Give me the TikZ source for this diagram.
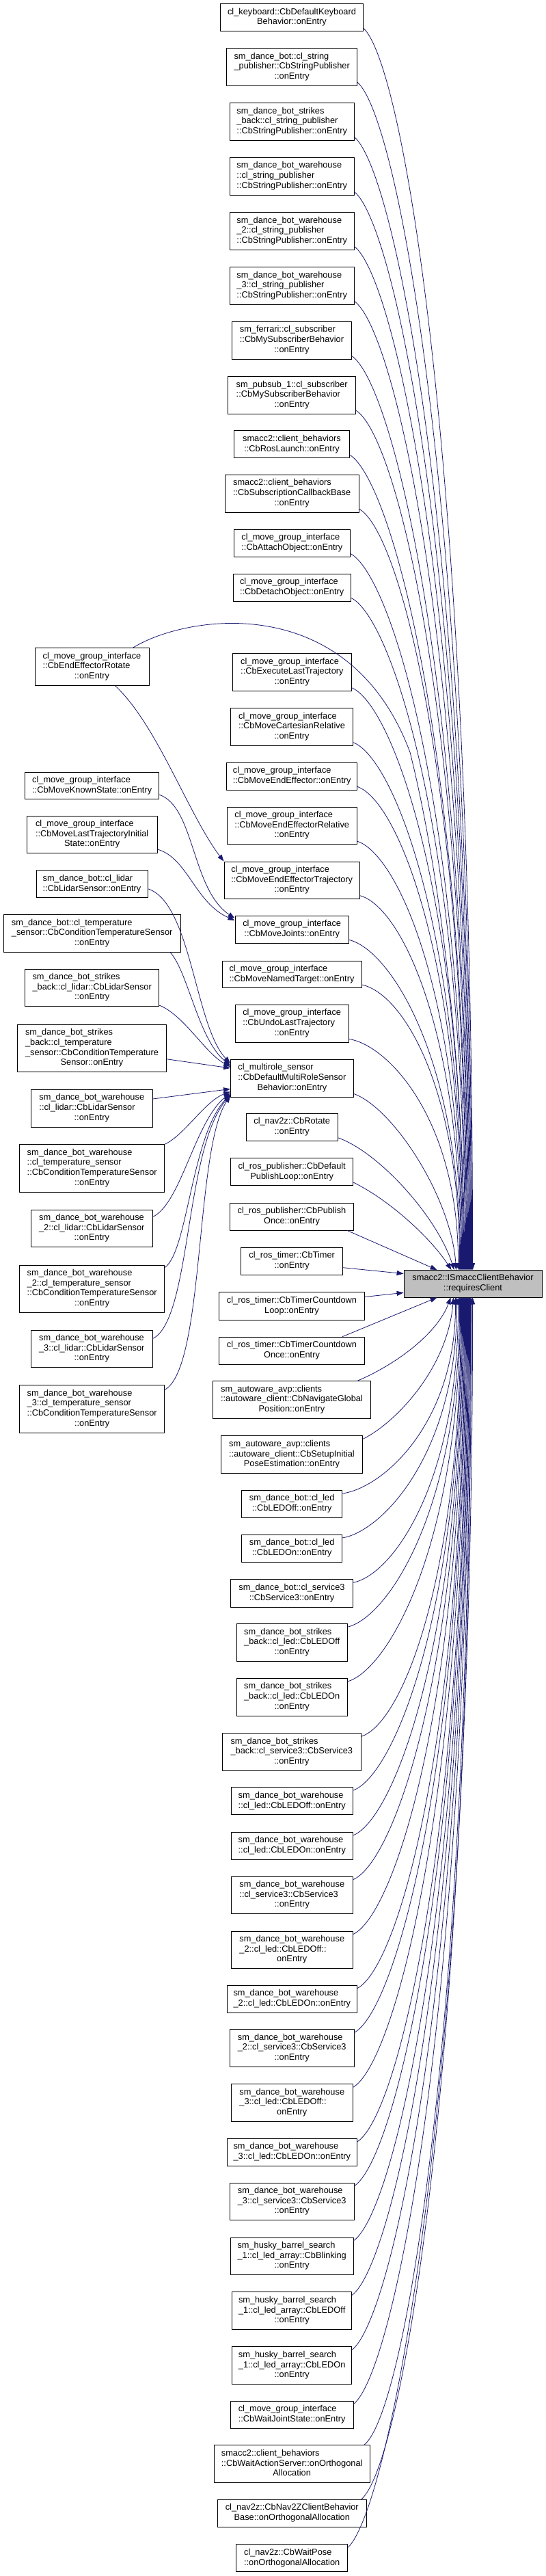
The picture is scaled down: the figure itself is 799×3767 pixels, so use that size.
\documentclass[tikz,border=0pt]{standalone}
\usepackage{fontspec}
\setmainfont{Liberation Sans}
\usetikzlibrary{arrows.meta,calc}
\definecolor{edgeblue}{HTML}{191970}
\definecolor{tgray}{HTML}{BFBFBF}
\newcommand{\boxtext}[2]{\begin{tabular}{@{}l@{}}#1\\\multicolumn{1}{@{}c@{}}{#2}\end{tabular}}
\begin{document}
\begin{tikzpicture}[x=1pt,y=-1pt,
  box/.style={draw=black, line width=0.8pt, fill=white, inner sep=0pt, font=\fontsize{12.8}{14.7}\selectfont},
  target/.style={box, fill=tgray},
  edge/.style={draw=edgeblue, line width=0.8pt, -{Triangle[length=10pt,width=7pt]}}]
\fill[white] (0,0) rectangle (799,3767);
\useasboundingbox (0,0) rectangle (799,3767);
% target
\node[target,minimum width=202pt,minimum height=39.5pt] (T) at (692,1877.2) {\boxtext{smacc2::ISmaccClientBehavior}{::requiresClient}};
% middle column
\node[box,minimum width=208.6pt,minimum height=40pt] (n1) at (427,25.7) {\boxtext{cl\_keyboard::CbDefaultKeyboard}{Behavior::onEntry}};
\node[box,minimum width=191pt,minimum height=54.3pt] (n2) at (427.2,97.8) {\boxtext{sm\_dance\_bot::cl\_string\\\_publisher::CbStringPublisher}{::onEntry}};
\node[box,minimum width=181.7pt,minimum height=54.3pt] (n3) at (427.2,177.8) {\boxtext{sm\_dance\_bot\_strikes\\\_back::cl\_string\_publisher}{::CbStringPublisher::onEntry}};
\node[box,minimum width=181.7pt,minimum height=54.7pt] (n4) at (427.2,257.7) {\boxtext{sm\_dance\_bot\_warehouse\\::cl\_string\_publisher}{::CbStringPublisher::onEntry}};
\node[box,minimum width=181.7pt,minimum height=54.3pt] (n5) at (427.2,337.8) {\boxtext{sm\_dance\_bot\_warehouse\\\_2::cl\_string\_publisher}{::CbStringPublisher::onEntry}};
\node[box,minimum width=181.7pt,minimum height=54.3pt] (n6) at (427.2,417.8) {\boxtext{sm\_dance\_bot\_warehouse\\\_3::cl\_string\_publisher}{::CbStringPublisher::onEntry}};
\node[box,minimum width=174.6pt,minimum height=54.7pt] (n7) at (427,497.7) {\boxtext{sm\_ferrari::cl\_subscriber\\::CbMySubscriberBehavior}{::onEntry}};
\node[box,minimum width=187pt,minimum height=54.3pt] (n8) at (427.2,577.8) {\boxtext{sm\_pubsub\_1::cl\_subscriber\\::CbMySubscriberBehavior}{::onEntry}};
\node[box,minimum width=168.6pt,minimum height=40pt] (n9) at (427,649.7) {\boxtext{smacc2::client\_behaviors}{::CbRosLaunch::onEntry}};
\node[box,minimum width=196.3pt,minimum height=54.7pt] (n10) at (427.2,721.7) {\boxtext{smacc2::client\_behaviors\\::CbSubscriptionCallbackBase}{::onEntry}};
\node[box,minimum width=169.6pt,minimum height=40pt] (n11) at (427.4,794) {\boxtext{cl\_move\_group\_interface}{::CbAttachObject::onEntry}};
\node[box,minimum width=172.6pt,minimum height=40pt] (n12) at (427.2,859) {\boxtext{cl\_move\_group\_interface}{::CbDetachObject::onEntry}};
\node[box,minimum width=173.8pt,minimum height=54.6pt] (n13) at (427.4,983) {\boxtext{cl\_move\_group\_interface\\::CbExecuteLastTrajectory}{::onEntry}};
\node[box,minimum width=179pt,minimum height=54.6pt] (n14) at (427,1063) {\boxtext{cl\_move\_group\_interface\\::CbMoveCartesianRelative}{::onEntry}};
\node[box,minimum width=191pt,minimum height=40pt] (n15) at (427.2,1135) {\boxtext{cl\_move\_group\_interface}{::CbMoveEndEffector::onEntry}};
\node[box,minimum width=189.4pt,minimum height=54.7pt] (n16) at (427.2,1207.3) {\boxtext{cl\_move\_group\_interface\\::CbMoveEndEffectorRelative}{::onEntry}};
\node[box,minimum width=198.6pt,minimum height=54.3pt] (n17) at (427.2,1287.2) {\boxtext{cl\_move\_group\_interface\\::CbMoveEndEffectorTrajectory}{::onEntry}};
\node[box,minimum width=166.6pt,minimum height=39.7pt] (n18) at (427.2,1359.2) {\boxtext{cl\_move\_group\_interface}{::CbMoveJoints::onEntry}};
\node[box,minimum width=204pt,minimum height=39.7pt] (n19) at (427,1424.8) {\boxtext{cl\_move\_group\_interface}{::CbMoveNamedTarget::onEntry}};
\node[box,minimum width=166.6pt,minimum height=54.7pt] (n20) at (427.2,1496.7) {\boxtext{cl\_move\_group\_interface\\::CbUndoLastTrajectory}{::onEntry}};
\node[box,minimum width=179.8pt,minimum height=54.7pt] (n21) at (427.4,1576.7) {\boxtext{cl\_multirole\_sensor\\::CbDefaultMultiRoleSensor}{Behavior::onEntry}};
\node[box,minimum width=133.8pt,minimum height=40pt] (n22) at (427.2,1648.3) {\boxtext{cl\_nav2z::CbRotate}{::onEntry}};
\node[box,minimum width=179.3pt,minimum height=40pt] (n23) at (427.2,1713.7) {\boxtext{cl\_ros\_publisher::CbDefault}{PublishLoop::onEntry}};
\node[box,minimum width=181.4pt,minimum height=40pt] (n24) at (427,1779) {\boxtext{cl\_ros\_publisher::CbPublish}{Once::onEntry}};
\node[box,minimum width=149pt,minimum height=40pt] (n25) at (427.2,1844.3) {\boxtext{cl\_ros\_timer::CbTimer}{::onEntry}};
\node[box,minimum width=213.4pt,minimum height=40.3pt] (n26) at (427,1910) {\boxtext{cl\_ros\_timer::CbTimerCountdown}{Loop::onEntry}};
\node[box,minimum width=213.4pt,minimum height=40.3pt] (n27) at (427,1975.2) {\boxtext{cl\_ros\_timer::CbTimerCountdown}{Once::onEntry}};
\node[box,minimum width=231.1pt,minimum height=54.6pt] (n28) at (427,2047) {\boxtext{sm\_autoware\_avp::clients\\::autoware\_client::CbNavigateGlobal}{Position::onEntry}};
\node[box,minimum width=207.5pt,minimum height=55pt] (n29) at (427,2127.2) {\boxtext{sm\_autoware\_avp::clients\\::autoware\_client::CbSetupInitial}{PoseEstimation::onEntry}};
\node[box,minimum width=147.3pt,minimum height=39.7pt] (n30) at (427.2,2199.2) {\boxtext{sm\_dance\_bot::cl\_led}{::CbLEDOff::onEntry}};
\node[box,minimum width=147.3pt,minimum height=40pt] (n31) at (427.2,2264.3) {\boxtext{sm\_dance\_bot::cl\_led}{::CbLEDOn::onEntry}};
\node[box,minimum width=179pt,minimum height=40.3pt] (n32) at (427,2329.8) {\boxtext{sm\_dance\_bot::cl\_service3}{::CbService3::onEntry}};
\node[box,minimum width=161.6pt,minimum height=54.3pt] (n33) at (427.2,2401.8) {\boxtext{sm\_dance\_bot\_strikes\\\_back::cl\_led::CbLEDOff}{::onEntry}};
\node[box,minimum width=161.6pt,minimum height=54.7pt] (n34) at (427.2,2481.7) {\boxtext{sm\_dance\_bot\_strikes\\\_back::cl\_led::CbLEDOn}{::onEntry}};
\node[box,minimum width=202.9pt,minimum height=54.3pt] (n35) at (426.8,2561.8) {\boxtext{sm\_dance\_bot\_strikes\\\_back::cl\_service3::CbService3}{::onEntry}};
\node[box,minimum width=177.6pt,minimum height=40pt] (n36) at (427.2,2633.7) {\boxtext{sm\_dance\_bot\_warehouse}{::cl\_led::CbLEDOff::onEntry}};
\node[box,minimum width=178pt,minimum height=40pt] (n37) at (427.3,2699.3) {\boxtext{sm\_dance\_bot\_warehouse}{::cl\_led::CbLEDOn::onEntry}};
\node[box,minimum width=178pt,minimum height=54.3pt] (n38) at (427.3,2771.2) {\boxtext{sm\_dance\_bot\_warehouse\\::cl\_service3::CbService3}{::onEntry}};
\node[box,minimum width=178pt,minimum height=54.7pt] (n39) at (427.3,2851.3) {\boxtext{sm\_dance\_bot\_warehouse\\\_2::cl\_led::CbLEDOff::}{onEntry}};
\node[box,minimum width=190pt,minimum height=40.3pt] (n40) at (427.3,2923.2) {\boxtext{sm\_dance\_bot\_warehouse}{\_2::cl\_led::CbLEDOn::onEntry}};
\node[box,minimum width=181.7pt,minimum height=54.6pt] (n41) at (427.2,2995) {\boxtext{sm\_dance\_bot\_warehouse\\\_2::cl\_service3::CbService3}{::onEntry}};
\node[box,minimum width=178pt,minimum height=54.6pt] (n42) at (427.3,3075) {\boxtext{sm\_dance\_bot\_warehouse\\\_3::cl\_led::CbLEDOff::}{onEntry}};
\node[box,minimum width=190pt,minimum height=39.7pt] (n43) at (427.3,3147.2) {\boxtext{sm\_dance\_bot\_warehouse}{\_3::cl\_led::CbLEDOn::onEntry}};
\node[box,minimum width=181.7pt,minimum height=54.7pt] (n44) at (427.2,3219.3) {\boxtext{sm\_dance\_bot\_warehouse\\\_3::cl\_service3::CbService3}{::onEntry}};
\node[box,minimum width=179.7pt,minimum height=54.3pt] (n45) at (427.2,3299.2) {\boxtext{sm\_husky\_barrel\_search\\\_1::cl\_led\_array::CbBlinking}{::onEntry}};
\node[box,minimum width=175pt,minimum height=55pt] (n46) at (427.2,3379.2) {\boxtext{sm\_husky\_barrel\_search\\\_1::cl\_led\_array::CbLEDOff}{::onEntry}};
\node[box,minimum width=175pt,minimum height=55pt] (n47) at (427.2,3459.2) {\boxtext{sm\_husky\_barrel\_search\\\_1::cl\_led\_array::CbLEDOn}{::onEntry}};
\node[box,minimum width=179.7pt,minimum height=40pt] (n48) at (427.2,3531) {\boxtext{cl\_move\_group\_interface}{::CbWaitJointState::onEntry}};
\node[box,minimum width=228.3pt,minimum height=55pt] (n49) at (427.2,3603.2) {\boxtext{smacc2::client\_behaviors\\::CbWaitActionServer::onOrthogonal}{Allocation}};
\node[box,minimum width=218.7pt,minimum height=40pt] (n50) at (427.3,3675) {\boxtext{cl\_nav2z::CbNav2ZClientBehavior}{Base::onOrthogonalAllocation}};
\node[box,minimum width=163pt,minimum height=40pt] (n51) at (427.2,3740.7) {\boxtext{cl\_nav2z::CbWaitPose}{::onOrthogonalAllocation}};
% left column
\node[box,minimum width=167.1pt,minimum height=54.6pt] (l1) at (134.5,975) {\boxtext{cl\_move\_group\_interface\\::CbEndEffectorRotate}{::onEntry}};
\node[box,minimum width=196.1pt,minimum height=39.3pt] (l2) at (134.7,1148.7) {\boxtext{cl\_move\_group\_interface}{::CbMoveKnownState::onEntry}};
\node[box,minimum width=191.1pt,minimum height=54.7pt] (l3) at (134.7,1220.3) {\boxtext{cl\_move\_group\_interface\\::CbMoveLastTrajectoryInitial}{State::onEntry}};
\node[box,minimum width=162.9pt,minimum height=40pt] (l4) at (134.5,1292.7) {\boxtext{sm\_dance\_bot::cl\_lidar}{::CbLidarSensor::onEntry}};
\node[box,minimum width=259.3pt,minimum height=54.3pt] (l5) at (134.7,1364.8) {\boxtext{sm\_dance\_bot::cl\_temperature\\\_sensor::CbConditionTemperatureSensor}{::onEntry}};
\node[box,minimum width=196.1pt,minimum height=54.7pt] (l6) at (134.7,1444.3) {\boxtext{sm\_dance\_bot\_strikes\\\_back::cl\_lidar::CbLidarSensor}{::onEntry}};
\node[box,minimum width=217.6pt,minimum height=68.7pt] (l7) at (134.5,1532.7) {\boxtext{sm\_dance\_bot\_strikes\\\_back::cl\_temperature\\\_sensor::CbConditionTemperature}{Sensor::onEntry}};
\node[box,minimum width=177.5pt,minimum height=54.7pt] (l8) at (134.3,1620.7) {\boxtext{sm\_dance\_bot\_warehouse\\::cl\_lidar::CbLidarSensor}{::onEntry}};
\node[box,minimum width=212.1pt,minimum height=69.3pt] (l9) at (134.7,1708.3) {\boxtext{sm\_dance\_bot\_warehouse\\::cl\_temperature\_sensor\\::CbConditionTemperatureSensor}{::onEntry}};
\node[box,minimum width=177.5pt,minimum height=54.7pt] (l10) at (134.3,1796.3) {\boxtext{sm\_dance\_bot\_warehouse\\\_2::cl\_lidar::CbLidarSensor}{::onEntry}};
\node[box,minimum width=212.1pt,minimum height=69pt] (l11) at (134.7,1884.5) {\boxtext{sm\_dance\_bot\_warehouse\\\_2::cl\_temperature\_sensor\\::CbConditionTemperatureSensor}{::onEntry}};
\node[box,minimum width=177.5pt,minimum height=54.7pt] (l12) at (134.3,1972.3) {\boxtext{sm\_dance\_bot\_warehouse\\\_3::cl\_lidar::CbLidarSensor}{::onEntry}};
\node[box,minimum width=212.1pt,minimum height=69.3pt] (l13) at (134.7,2060.3) {\boxtext{sm\_dance\_bot\_warehouse\\\_3::cl\_temperature\_sensor\\::CbConditionTemperatureSensor}{::onEntry}};
% edges into the target from above
\draw[edge] ($(n1.south east)+(0,-5)$) .. controls (591.3,95.2) and (692,694.7) .. ($(T.north west)+(101,0)$);
\draw[edge] ($(n2.south east)+(0,-5)$) .. controls (582.7,172.1) and (691,745.5) .. ($(T.north west)+(100,0)$);
\draw[edge] ($(n3.south east)+(0,-5)$) .. controls (578,249.7) and (690,796.7) .. ($(T.north west)+(99,0)$);
\draw[edge] ($(n4.south east)+(0,-5)$) .. controls (578,327.3) and (689,847.9) .. ($(T.north west)+(98,0)$);
\draw[edge] ($(n5.south east)+(0,-5)$) .. controls (578,404.9) and (688,899.1) .. ($(T.north west)+(97,0)$);
\draw[edge] ($(n6.south east)+(0,-5)$) .. controls (578,482.5) and (687,950.3) .. ($(T.north west)+(96,0)$);
\draw[edge] ($(n7.south east)+(0,-5)$) .. controls (574.3,560.1) and (686,1001.5) .. ($(T.north west)+(95,0)$);
\draw[edge] ($(n8.south east)+(0,-5)$) .. controls (580.7,637.7) and (685,1052.7) .. ($(T.north west)+(94,0)$);
\draw[edge] ($(n9.south east)+(0,-5)$) .. controls (571.3,700.5) and (684,1094.1) .. ($(T.north west)+(93,0)$);
\draw[edge] ($(n10.south east)+(0,-5)$) .. controls (585.3,777.4) and (683,1144.9) .. ($(T.north west)+(92,0)$);
\draw[edge] ($(n11.south east)+(0,-5)$) .. controls (572.2,840.5) and (682,1186.5) .. ($(T.north west)+(91,0)$);
\draw[edge] ($(n12.south east)+(0,-5)$) .. controls (573.5,903.5) and (681,1228.1) .. ($(T.north west)+(90,0)$);
\draw[edge] ($(l1.north east)+(-24,0)$) .. controls (270,900) and (510,860) .. (600,1100) .. controls (650,1300) and (680,1600) .. ($(T.north west)+(89,0)$);
\draw[edge] ($(n13.south east)+(0,-5)$) .. controls (574.3,1030.9) and (679,1312.1) .. ($(T.north west)+(88,0)$);
\draw[edge] ($(n14.south east)+(0,-5)$) .. controls (576.4,1108.5) and (678,1363.3) .. ($(T.north west)+(87,0)$);
\draw[edge] ($(n15.south east)+(0,-5)$) .. controls (582.7,1171.2) and (677,1404.7) .. ($(T.north west)+(86,0)$);
\draw[edge] ($(n16.south east)+(0,-5)$) .. controls (581.9,1248.5) and (676,1455.7) .. ($(T.north west)+(85,0)$);
\draw[edge] ($(n17.south east)+(0,-5)$) .. controls (586.5,1325.7) and (675,1506.7) .. ($(T.north west)+(84,0)$);
\draw[edge] ($(n18.south east)+(0,-5)$) .. controls (570.5,1388.5) and (674,1548.1) .. ($(T.north west)+(83,0)$);
\draw[edge] ($(n19.south east)+(0,-5)$) .. controls (589,1452.2) and (673,1590.1) .. ($(T.north west)+(82,0)$);
\draw[edge] ($(n20.south east)+(0,-5)$) .. controls (570.5,1529.2) and (671,1640.9) .. ($(T.north west)+(80,0)$);
\draw[edge] ($(n21.south east)+(0,-5)$) .. controls (575,1620) and (660,1750) .. ($(T.north west)+(77,0)$);
\draw[edge] ($(n22.south east)+(0,-5)$) .. controls (555,1685) and (640,1780) .. ($(T.north west)+(74,0)$);
\draw[edge] ($(n23.south east)+(0,-5)$) .. controls (570,1755) and (630,1810) .. ($(T.north west)+(70,0)$);
\draw[edge] ($(n24.south east)+(-10,0)$) -- ($(T.north west)+(49,0)$);
\draw[edge] ($(n25.south east)+(0,-11)$) -- ($(T.north west)+(0,5.5)$);
% edges into the target from below
\draw[edge] ($(n26.north east)+(0,7)$) -- ($(T.south west)+(0,-7)$);
\draw[edge] ($(n27.north east)+(-33,0)$) -- ($(T.south west)+(49,0)$);
\draw[edge] ($(n28.north east)+(-20,0)$) .. controls (580,1995) and (640,1950) .. ($(T.south west)+(69,0)$);
\draw[edge] ($(n29.north east)+(0,5)$) .. controls (580,2080) and (655,2000) .. ($(T.south west)+(73,0)$);
\draw[edge] ($(n30.north east)+(0,5)$) .. controls (560.8,2175.7) and (667,2080.9) .. ($(T.south west)+(76,0)$);
\draw[edge] ($(n31.north east)+(0,5)$) .. controls (560.8,2238.7) and (669,2122.5) .. ($(T.south west)+(78,0)$);
\draw[edge] ($(n32.north east)+(0,5)$) .. controls (576.4,2302.2) and (671,2164.3) .. ($(T.south west)+(80,0)$);
\draw[edge] ($(n33.north east)+(0,5)$) .. controls (568,2365.2) and (673,2205.9) .. ($(T.south west)+(82,0)$);
\draw[edge] ($(n34.north east)+(0,5)$) .. controls (568,2442.4) and (674,2256.9) .. ($(T.south west)+(83,0)$);
\draw[edge] ($(n35.north east)+(0,5)$) .. controls (588.2,2520.4) and (675,2308.3) .. ($(T.south west)+(84,0)$);
\draw[edge] ($(n36.north east)+(0,5)$) .. controls (576,2597.1) and (676,2358.9) .. ($(T.south west)+(85,0)$);
\draw[edge] ($(n37.north east)+(0,5)$) .. controls (576.3,2660.7) and (677,2400.9) .. ($(T.south west)+(86,0)$);
\draw[edge] ($(n38.north east)+(0,5)$) .. controls (576.3,2723.4) and (678,2442.3) .. ($(T.south west)+(87,0)$);
\draw[edge] ($(n39.north east)+(0,5)$) .. controls (576.3,2801) and (679,2493.5) .. ($(T.south west)+(88,0)$);
\draw[edge] ($(n40.north east)+(0,5)$) .. controls (582.3,2877.7) and (680,2544) .. ($(T.south west)+(89,0)$);
\draw[edge] ($(n41.north east)+(0,5)$) .. controls (578,2940.4) and (681,2585.4) .. ($(T.south west)+(90,0)$);
\draw[edge] ($(n42.north east)+(0,5)$) .. controls (576.3,3018) and (682,2636.6) .. ($(T.south west)+(91,0)$);
\draw[edge] ($(n43.north east)+(0,5)$) .. controls (582.3,3095.2) and (683,2687.6) .. ($(T.south west)+(92,0)$);
\draw[edge] ($(n44.north east)+(0,5)$) .. controls (578,3158) and (684,2729) .. ($(T.south west)+(93,0)$);
\draw[edge] ($(n45.north east)+(0,5)$) .. controls (577,3235.6) and (685,2780.2) .. ($(T.south west)+(94,0)$);
\draw[edge] ($(n46.north east)+(0,5)$) .. controls (574.7,3312.9) and (686,2831.2) .. ($(T.south west)+(95,0)$);
\draw[edge] ($(n47.north east)+(0,5)$) .. controls (574.7,3390.5) and (687,2882.4) .. ($(T.south west)+(96,0)$);
\draw[edge] ($(n48.north east)+(0,5)$) .. controls (577,3467.4) and (688,2933.2) .. ($(T.south west)+(97,0)$);
\draw[edge] ($(n49.north east)+(-9,0)$) .. controls (592,3530) and (689,2974.6) .. ($(T.south west)+(98,0)$);
\draw[edge] ($(n50.north east)+(-8,0)$) .. controls (588.7,3602.3) and (690,3022.1) .. ($(T.south west)+(99,0)$);
\draw[edge] ($(n51.north east)+(0,5)$) .. controls (568.7,3670.8) and (692,3067.4) .. ($(T.south west)+(101,0)$);
% edges from the left column
\draw[edge] ($(l1.south east)+(-50,0)$) .. controls (230,1060) and (275,1190) .. (n17.north west);
\draw[edge] ($(l2.south east)+(0,-6.6)$) .. controls (285,1180) and (280,1300) .. ($(n18.north west)+(0,4)$);
\draw[edge] ($(l3.south east)+(0,-6)$) .. controls (275,1255) and (285,1320) .. ($(n18.north west)+(0,7)$);
\draw[edge] ($(l4.east)+(0,7)$) .. controls (280,1320) and (285,1500) .. ($(n21.north west)+(0,6)$);
\draw[edge] ($(l5.south east)+(-16,0)$) .. controls (275,1420) and (290,1520) .. ($(n21.north west)+(0,9)$);
\draw[edge] ($(l6.south east)+(0,-2)$) .. controls (270,1485) and (300,1540) .. ($(n21.north west)+(0,11)$);
\draw[edge] ($(l7.east)+(0,16)$) -- ($(n21.north west)+(0,13)$);
\draw[edge] ($(l8.east)+(0,-13.7)$) -- ($(n21.south west)+(0,-12)$);
\draw[edge] (l9.north east) .. controls (270,1660) and (300,1610) .. ($(n21.south west)+(0,-8)$);
\draw[edge] ($(l10.north east)+(0,11)$) .. controls (265,1760) and (285,1640) .. ($(n21.south west)+(0,-6)$);
\draw[edge] ($(l11.north east)+(0,4)$) .. controls (275,1830) and (280,1660) .. ($(n21.south west)+(0,-4)$);
\draw[edge] ($(l12.north east)+(0,13)$) .. controls (280,1930) and (270,1680) .. ($(n21.south west)+(0,-3)$);
\draw[edge] ($(l13.north east)+(0,7)$) .. controls (300,2000) and (285,1680) .. ($(n21.south west)+(0,-2)$);
\end{tikzpicture}
\end{document}
